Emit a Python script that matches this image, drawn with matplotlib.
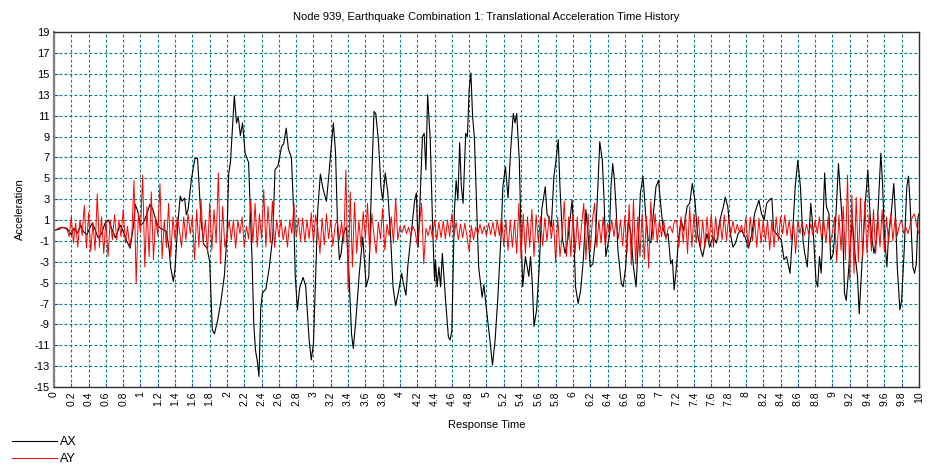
import numpy as np
import matplotlib
matplotlib.use("Agg")
import matplotlib.pyplot as plt

plt.rcParams["font.family"] = ["Liberation Sans", "DejaVu Sans"]

title = "Node 939, Earthquake Combination 1: Translational Acceleration Time History"

# AX: turning points (time, acceleration)
ax_t = [0.00, 0.05, 0.10, 0.15, 0.20, 0.23, 0.27, 0.31, 0.34, 0.38,
        0.44, 0.47, 0.51, 0.55, 0.59, 0.63, 0.67, 0.71, 0.75, 0.77,
        0.81, 0.84, 0.88, 0.92, 0.94, 0.97, 1.00, 1.03, 1.07, 1.11,
        1.14, 1.17, 1.20, 1.23, 1.26, 1.30, 1.33, 1.35, 1.38, 1.40,
        1.43, 1.46, 1.48, 1.51, 1.53, 1.55, 1.59, 1.63, 1.66, 1.70,
        1.73, 1.77, 1.80, 1.83, 1.855, 1.89, 1.93, 1.97, 2.00, 2.02,
        2.04, 2.085, 2.11, 2.13, 2.155, 2.18, 2.21, 2.25, 2.29, 2.31,
        2.33, 2.35, 2.37, 2.39, 2.41, 2.45, 2.49, 2.53, 2.555, 2.59,
        2.63, 2.655, 2.685, 2.71, 2.745, 2.77, 2.79, 2.815, 2.84, 2.88,
        2.91, 2.95, 2.975, 3.00, 3.03, 3.05, 3.08, 3.11, 3.15, 3.18,
        3.21, 3.23, 3.255, 3.28, 3.30, 3.32, 3.34, 3.38, 3.41, 3.44,
        3.46, 3.49, 3.53, 3.57, 3.61, 3.64, 3.67, 3.70, 3.72, 3.75,
        3.78, 3.80, 3.83, 3.86, 3.89, 3.92, 3.95, 3.98, 4.02, 4.04,
        4.07, 4.09, 4.13, 4.17, 4.19, 4.21, 4.23, 4.26, 4.28, 4.30,
        4.32, 4.35, 4.38, 4.40, 4.41, 4.43, 4.45, 4.47, 4.49, 4.53,
        4.56, 4.58, 4.60, 4.63, 4.65, 4.67, 4.69, 4.71, 4.73, 4.76,
        4.78, 4.80, 4.82, 4.84, 4.86, 4.89, 4.91, 4.95, 4.97, 5.01,
        5.04, 5.07, 5.10, 5.13, 5.17, 5.19, 5.22, 5.25, 5.28, 5.31,
        5.33, 5.35, 5.38, 5.40, 5.42, 5.45, 5.49, 5.51, 5.53, 5.55,
        5.58, 5.61, 5.64, 5.68, 5.70, 5.73, 5.75, 5.78, 5.80, 5.83,
        5.85, 5.88, 5.91, 5.94, 5.97, 5.99, 6.01, 6.03, 6.06, 6.09,
        6.12, 6.15, 6.18, 6.20, 6.23, 6.26, 6.29, 6.31, 6.34, 6.36,
        6.38, 6.42, 6.44, 6.46, 6.48, 6.50, 6.52, 6.56, 6.58, 6.61,
        6.64, 6.67, 6.70, 6.73, 6.76, 6.78, 6.81, 6.84, 6.87, 6.90,
        6.93, 6.96, 6.99, 7.01, 7.04, 7.07, 7.10, 7.13, 7.15, 7.17,
        7.20, 7.22, 7.25, 7.28, 7.32, 7.35, 7.38, 7.41, 7.44, 7.47,
        7.50, 7.52, 7.55, 7.58, 7.62, 7.66, 7.70, 7.74, 7.76, 7.79,
        7.82, 7.85, 7.88, 7.91, 7.95, 7.99, 8.03, 8.07, 8.10, 8.15,
        8.18, 8.21, 8.24, 8.27, 8.30, 8.32, 8.35, 8.38, 8.41, 8.44,
        8.47, 8.51, 8.54, 8.57, 8.60, 8.63, 8.66, 8.68, 8.71, 8.73,
        8.75, 8.78, 8.81, 8.83, 8.85, 8.87, 8.88, 8.91, 8.93, 8.96,
        8.98, 9.01, 9.04, 9.07, 9.09, 9.12, 9.14, 9.16, 9.19, 9.21,
        9.23, 9.26, 9.29, 9.31, 9.34, 9.36, 9.38, 9.41, 9.43, 9.45,
        9.48, 9.51, 9.53, 9.56, 9.58, 9.60, 9.63, 9.65, 9.68, 9.71,
        9.73, 9.75, 9.78, 9.80, 9.83, 9.86, 9.88, 9.90, 9.93, 9.95,
        9.97, 9.99, 10.00]
ax_v = [0.0, 0.1, 0.3, 0.2, -0.4, 0.2, -0.25, 0.5, -0.1, -0.4,
        0.7, 0.2, -0.7, -0.3, 0.7, 1.0, 0.1, -0.7, 0.2, 0.5,
        -0.3, -1.0, -1.7, 0.5, 2.5, 1.8, 0.5, 0.7, 1.5, 2.5,
        2.1, 1.2, 0.5, 0.2, 0.1, -0.1, -1.7, -3.6, -4.9, -3.6,
        0.5, 3.3, 2.8, 3.1, 1.5, 2.0, 5.0, 6.9, 6.9, 1.0,
        -1.3, -1.7, -3.0, -9.5, -9.9, -8.7, -6.8, -4.3, -0.5, 5.5,
        6.5, 12.9, 10.3, 10.9, 9.1, 10.3, 7.4, 6.5, -2.8, -9.0,
        -11.5, -12.5, -14.0, -7.5, -6.0, -5.6, -3.5, -0.5, 5.8, 6.2,
        8.0, 8.3, 9.8, 7.8, 7.0, 2.0, -4.5, -7.6, -5.5, -4.5,
        -5.3, -10.5, -12.4, -10.8, -3.0, 2.0, 5.4, 4.0, 2.8, 5.5,
        8.5, 10.3, 7.5, 0.0, -2.8, -2.2, -0.5, 0.35, -4.1, -9.9,
        -11.3, -8.6, -4.1, -0.6, -5.4, -4.4, 4.2, 11.4, 11.2, 8.7,
        4.2, 2.9, 5.5, 3.6, -0.3, -5.4, -7.2, -6.0, -4.1, -5.1,
        -6.2, -3.5, -0.3, 2.9, 3.6, -1.6, 2.3, 9.0, 9.3, 5.8,
        13.0, 8.7, -0.3, -4.8, -2.8, -5.4, -3.5, -5.4, -2.2, -7.0,
        -10.2, -10.5, -9.6, 2.0, 4.8, 2.9, 8.4, 4.2, 2.6, 9.3,
        9.0, 13.5, 15.1, 10.9, 9.0, 1.6, -3.5, -6.4, -5.2, -8.3,
        -10.5, -12.9, -10.5, -6.7, -0.3, 4.2, 6.1, 3.1, 7.7, 11.2,
        10.3, 11.2, 6.7, -0.3, -5.4, -2.5, -4.4, -2.5, -5.1, -9.2,
        -7.6, -3.5, 2.0, 4.2, 1.6, 1.0, 0.35, 5.2, 6.4, 8.7,
        4.2, -0.9, -2.2, -0.9, 1.3, 2.9, -0.3, -5.4, -7.0, -5.7,
        -2.8, 2.0, -0.9, -3.5, -3.2, -0.9, 4.5, 8.5, 6.7, 2.9,
        -2.5, -0.6, 4.2, 6.4, 4.8, 2.0, -1.9, -5.1, -5.4, -3.5,
        1.0, -0.3, -3.5, -5.4, -0.3, 3.6, 5.2, 1.6, -0.9, -1.2,
        1.6, 4.2, 4.8, 2.9, 0.35, -0.6, -0.3, -3.2, -2.8, -5.7,
        -3.2, -0.9, 1.0, 0.0, 2.3, 2.6, 4.5, 2.9, -0.3, -1.6,
        -2.5, -1.6, -0.3, -1.6, -0.6, -1.2, 1.0, 2.3, 3.2, 2.3,
        -0.3, -1.6, -1.2, -0.3, 0.0, -0.6, -1.7, -0.3, 1.6, 2.9,
        1.6, 1.0, 2.6, 2.9, 3.1, 0.0, -0.3, -0.6, -0.9, -2.8,
        -2.5, -4.1, -0.3, 4.2, 6.7, 4.2, -0.9, -2.2, -3.5, -0.3,
        2.6, -0.3, -4.8, -5.4, -2.5, -4.1, -2.2, 5.5, 2.3, 1.6,
        -2.8, -2.2, 1.3, 6.4, 3.9, 0.0, -6.0, -6.7, -3.5, -0.9,
        1.0, -2.2, -4.4, -8.0, -3.5, -0.6, 2.6, 5.8, 2.3, -0.3,
        -2.2, -0.9, 2.3, 7.4, 4.5, -0.3, -3.5, -0.3, 1.6, 4.5,
        1.3, -3.5, -7.6, -6.7, -1.9, 4.2, 5.2, 2.3, -3.5, -4.1,
        -3.2, 1.3, 1.6]

# AY: red trace sampled every 0.025 s, one row per 0.25 s
ay_dt = 0.025
ay_v = [
    0.0, 0.1, 0.2, 0.3, 0.3, 0.2, 0.1, -0.6, 1.3, -1.2,
    0.7, -1.6, 1.0, -0.5, 2.4, -1.7, 1.7, -2.0, 0.8, -1.9,
    3.5, -1.6, 1.3, -2.2, 1.0, -2.5, 1.0, -0.9, 1.5, -0.9,
    1.0, -0.6, 2.0, -1.2, 0.4, -1.6, -0.3, 4.8, -5.1, 1.6,
    -0.2, 5.3, -3.5, 2.3, -2.5, 3.7, -2.8, 1.3, -0.5, 4.5,
    -2.7, 1.0, -1.6, 2.6, -2.5, 1.3, -0.9, 1.3, 0.1, -1.6,
    1.3, -0.9, 1.6, -0.3, 1.3, -2.8, 2.0, -1.6, 2.9, -1.2,
    1.0, -2.2, 2.6, -1.9, 2.0, -1.2, 5.5, -3.2, 2.3, -1.6,
    -0.5, 1.0, -0.9, 1.0, -1.7, 1.0, -0.3, 1.3, -1.6, 0.4,
    -0.8, 2.9, -1.2, 2.6, -1.6, 1.6, -0.8, 3.9, -1.6, 2.3,
    -1.2, 2.8, -1.6, 1.0, -0.6, 1.0, -0.9, 0.4, -1.6, 1.0,
    -0.3, 2.6, -0.6, 1.2, -1.0, 1.2, -1.1, 1.0, -0.8, 1.7,
    -1.2, 1.5, 0.2, -2.2, 1.2, -1.4, 1.6, -0.8, 1.0, -1.5,
    0.5, 1.0, -0.9, 0.8, -1.2, 5.8, -5.7, 3.7, -3.5, 2.7,
    -2.2, 1.0, -1.6, 1.8, -0.8, 2.6, -2.2, 1.6, -0.5, -2.2,
    0.8, -0.8, 2.1, -1.9, 0.6, -0.5, 1.3, -1.2, 3.1, -0.9,
    0.4, -0.2, 0.5, -0.3, 0.3, -0.5, 0.4, -0.1, -1.4, 0.5,
    2.6, -3.2, 0.2, -0.5, 0.5, -0.7, 1.0, -0.9, 0.8, -0.7,
    0.9, -0.8, 1.0, -0.6, 1.6, -0.5, 0.8, -0.9, 0.6, -0.7,
    0.7, -0.6, -2.0, 0.5, -0.9, 0.3, -0.4, 0.6, -0.3, 0.4,
    -0.5, 0.7, -0.4, 0.8, -0.6, 1.0, -0.5, 1.3, -1.5, 1.0,
    -1.9, 1.0, -1.6, 1.0, -2.2, 2.6, -2.7, 1.6, -2.2, 1.3,
    -1.6, 2.0, -2.5, 1.5, -1.2, 1.3, -1.5, 1.2, -1.0, 1.4,
    -0.8, 1.0, -3.0, 1.3, -2.5, -0.5, 2.8, -2.5, 1.3, -2.5,
    1.6, -2.2, 1.3, -1.9, 0.5, 2.6, -2.8, 1.6, -1.9, 1.0,
    2.6, -1.6, 1.0, -1.2, 1.3, -1.6, 0.7, -0.3, 1.0, -0.6,
    1.2, -0.8, 1.0, -1.5, 1.4, -2.2, 2.5, -3.3, 3.0, -3.2,
    1.3, -2.5, 1.6, -2.8, 1.3, -3.6, 2.8, -0.9, 1.6, -1.2,
    1.0, -0.6, 1.0, -0.9, 0.2, 0.4, -0.2, 1.0, 0.8, -1.6,
    1.3, -1.2, 1.6, -2.2, 2.3, -1.6, 1.6, -1.2, 1.3, -1.6,
    1.0, -1.6, 1.3, -1.2, 1.6, -1.6, 1.3, -0.9, 1.0, -0.9,
    1.5, -1.0, 1.2, -0.4, 0.9, -0.3, 0.6, -0.2, 0.5, -0.6,
    1.3, -1.6, 1.3, -1.0, 1.0, -1.6, 1.2, -1.2, 1.0, -1.0,
    1.0, -1.9, 1.0, -1.6, 1.3, -1.0, 1.3, -0.3, 1.5, -0.5,
    1.0, -0.9, 0.8, -2.2, 1.0, -0.3, 0.8, -0.5, 0.6, -0.3,
    0.6, -0.5, 1.0, -0.3, 1.3, -0.9, 1.0, -1.2, 1.3, -1.2,
    -0.2, 1.3, -3.0, 1.5, -1.9, 2.3, -2.8, 5.3, -4.7, 3.4,
    -4.1, 3.2, -3.0, 3.1, -2.5, 2.8, -2.2, 1.6, -2.0, 2.0,
    -2.2, 1.6, -1.6, 2.0, -2.0, 1.3, -1.2, 1.6, -1.0, 1.3,
    -0.5, 0.5, 1.0, -0.3, 0.3, -0.3, 0.6, 1.3, 1.6, 0.4,
    -0.3]
ay_t = np.arange(len(ay_v)) * ay_dt

x_ticks = np.round(np.arange(0, 10.001, 0.2), 1)
y_ticks = np.arange(-15, 20, 2)

fig = plt.figure(figsize=(9.31, 4.66), dpi=100)
ax = fig.add_axes([0.058, 0.1695, 0.929, 0.7615])

l1, = ax.plot(ax_t, ax_v, color="black", linewidth=0.8, label="AX")
l2, = ax.plot(ay_t, ay_v, color="#ff0000", linewidth=0.7, label="AY")

ax.set_xlim(0, 10)
ax.set_ylim(-15, 19)
ax.set_xticks(x_ticks)
ax.set_xticklabels([f"{v:g}" for v in x_ticks], rotation=90, va="top", fontsize=7.5)
ax.set_yticks(y_ticks)
ax.set_yticklabels([str(v) for v in y_ticks], fontsize=8)
ax.tick_params(direction="in", length=3, color="#3050c0", pad=3)

ax.grid(True, color="#008080", linestyle=(0, (2.5, 2)), linewidth=0.8)
ax.set_axisbelow(True)

for side in ["top", "right", "bottom"]:
    ax.spines[side].set_color("#303030")
    ax.spines[side].set_linewidth(1.0)
ax.spines["left"].set_color("#808080")
ax.spines["left"].set_linewidth(1.6)

ax.set_title(title, fontsize=8, pad=9)
ax.set_xlabel("Response Time", fontsize=8, labelpad=10)
ax.set_ylabel("Acceleration", fontsize=8, labelpad=6)

fig.legend(handles=[l1, l2], loc="lower left", bbox_to_anchor=(0.005, -0.015),
           frameon=False, fontsize=9, handlelength=3.6, handletextpad=0.2,
           labelspacing=0.4, borderaxespad=0.2)

fig.savefig("out.png", dpi=100)
